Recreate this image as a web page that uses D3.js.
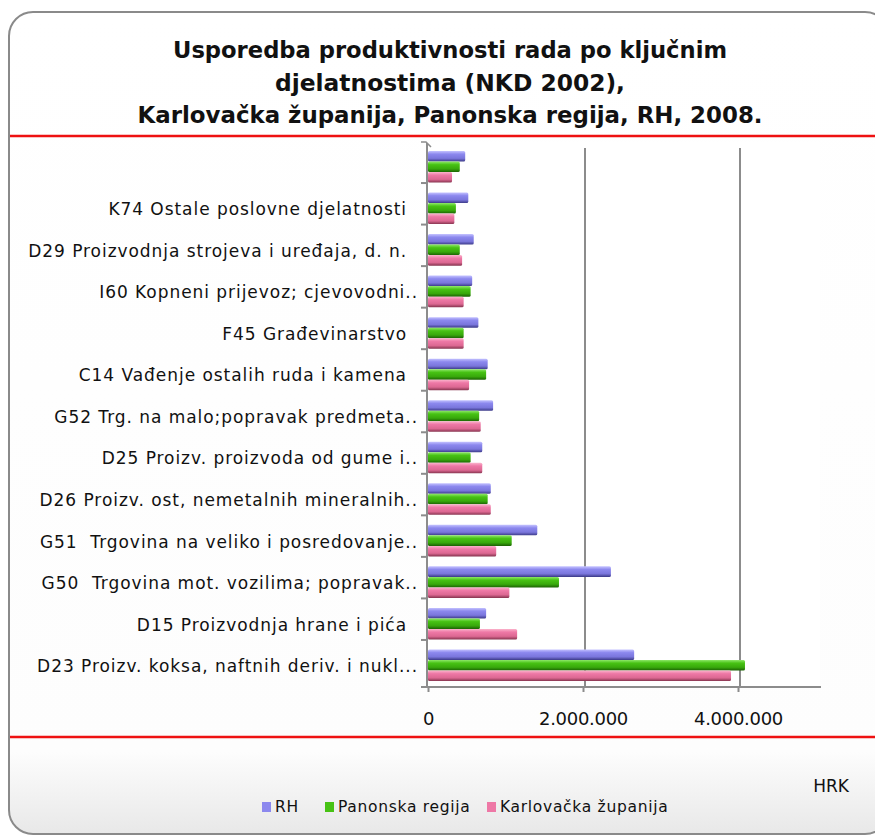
<!DOCTYPE html>
<html><head><meta charset="utf-8">
<script src="https://cdn.jsdelivr.net/npm/d3@7"></script>
<style>
html,body{margin:0;padding:0;background:#fff;}
svg{display:block;}
text{font-family:"DejaVu Sans",Verdana,sans-serif;}
</style></head>
<body><svg id="c" width="875" height="838"></svg>
<script>
const categories = ["",
 "K74 Ostale poslovne djelatnosti",
 "D29 Proizvodnja strojeva i uređaja, d. n.",
 "I60 Kopneni prijevoz; cjevovodni..",
 "F45 Građevinarstvo",
 "C14 Vađenje ostalih ruda i kamena",
 "G52 Trg. na malo;popravak predmeta..",
 "D25 Proizv. proizvoda od gume i..",
 "D26 Proizv. ost, nemetalnih mineralnih..",
 "G51  Trgovina na veliko i posredovanje..",
 "G50  Trgovina mot. vozilima; popravak..",
 "D15 Proizvodnja hrane i pića",
 "D23 Proizv. koksa, naftnih deriv. i nukl..."];
const seriesNames = ["RH", "Panonska regija", "Karlovačka županija"];
const valuesRH = [480000, 520000, 590000, 570000, 650000, 770000, 840000, 700000, 810000, 1410000, 2360000, 750000, 2660000];
const valuesPanonska = [410000, 360000, 410000, 550000, 460000, 750000, 660000, 550000, 770000, 1080000, 1690000, 670000, 4090000];
const valuesKarlovacka = [310000, 340000, 440000, 460000, 460000, 530000, 680000, 700000, 810000, 880000, 1050000, 1150000, 3910000];
const xTicks = [0, 2000000, 4000000];
const titleLines = ["Usporedba produktivnosti rada po ključnim", "djelatnostima (NKD 2002),", "Karlovačka županija, Panonska regija, RH, 2008."];
const unitLabel = "HRK";

const series = [valuesRH, valuesPanonska, valuesKarlovacka];
const svg = d3.select("#c");
const defs = svg.append("defs");

const bg = defs.append("linearGradient").attr("id","bg").attr("x1",0).attr("y1",0).attr("x2",0).attr("y2",1);
bg.append("stop").attr("offset","0").attr("stop-color","#ffffff");
bg.append("stop").attr("offset","0.9").attr("stop-color","#fdfdfd");
bg.append("stop").attr("offset","1").attr("stop-color","#e8e8e8");

const grads = [
  ["#c4c2ff","#8c88ee","#7a76dc","#3c3a88"],
  ["#8fe86a","#47c214","#38a80c","#1c6204"],
  ["#fbb4cc","#ee78a6","#dc6892","#86344f"]
];
grads.forEach((g,i)=>{
  const lg = defs.append("linearGradient").attr("id","g"+i).attr("x1",0).attr("y1",0).attr("x2",0).attr("y2",1);
  lg.append("stop").attr("offset","0").attr("stop-color",g[0]);
  lg.append("stop").attr("offset","0.3").attr("stop-color",g[1]);
  lg.append("stop").attr("offset","0.7").attr("stop-color",g[2]);
  lg.append("stop").attr("offset","1").attr("stop-color",g[3]);
});
const legendColors = ["#8c88ee","#47c214","#ee78a6"];

svg.append("rect").attr("x",9).attr("y",12).attr("width",880).attr("height",822)
  .attr("rx",24).attr("fill","url(#bg)").attr("stroke","#8a8a8a").attr("stroke-width",2);

const title = svg.append("g");
const titleY = [58, 91, 123];
const titleW = [554, 350, 625];
titleLines.forEach((t,i)=>{
  title.append("text").attr("x",450).attr("y",titleY[i]).attr("text-anchor","middle")
    .attr("font-size",23).attr("font-weight","bold").attr("fill","#111")
    .attr("textLength",titleW[i]).attr("lengthAdjust","spacingAndGlyphs").text(t);
});

[136, 737].forEach(y=>{
  svg.append("line").attr("x1",10).attr("x2",875).attr("y1",y).attr("y2",y)
    .attr("stroke","#ee1111").attr("stroke-width",2.5);
});

const x = d3.scaleLinear().domain([0,5000000]).range([428, 815.5]);
const y = d3.scaleBand().domain(d3.range(categories.length)).range([146, 686]).paddingInner(0.24).paddingOuter(0.12);
const y1 = d3.scaleBand().domain(d3.range(series.length)).range([0, y.bandwidth()]);

svg.append("rect").attr("x",428).attr("y",142).attr("width",392).attr("height",544).attr("fill","#fff");

svg.append("g").selectAll("line").data(xTicks.filter(d=>d>0)).join("line")
  .attr("x1",d=>x(d)+2).attr("x2",d=>x(d)+2).attr("y1",148).attr("y2",686)
  .attr("stroke","#8c8c8c").attr("stroke-width",2);

const groups = svg.append("g").selectAll("g").data(categories).join("g")
  .attr("transform",(d,i)=>`translate(0,${y(i)})`);
groups.selectAll("rect").data((d,i)=>series.map((s,k)=>({k, v:s[i]}))).join("rect")
  .attr("x", x(0)).attr("y", d=>y1(d.k)).attr("height", y1.bandwidth())
  .attr("width", d=>x(d.v)-x(0)).attr("rx",1.5)
  .attr("fill", d=>`url(#g${d.k})`);

const axisColor = "#8c8c8c";
svg.append("line").attr("x1",427).attr("x2",427).attr("y1",143).attr("y2",688)
  .attr("stroke",axisColor).attr("stroke-width",2);
svg.append("path").attr("d","M421,142 L426,142 L431,147").attr("fill","none").attr("stroke",axisColor).attr("stroke-width",1.5);
const boundaries = d3.range(1, categories.length).map(i=>y.step()*i + 141.5);
svg.append("g").selectAll("line").data(boundaries).join("line")
  .attr("x1",421).attr("x2",427).attr("y1",d=>d).attr("y2",d=>d)
  .attr("stroke",axisColor).attr("stroke-width",2);

svg.append("g").selectAll("text").data(categories).join("text")
  .attr("x", d=> d.endsWith("..") ? 418 : 407)
  .attr("y",(d,i)=>y(i)+y.bandwidth()/2+1)
  .attr("dy","0.35em").attr("text-anchor","end")
  .attr("font-size",17).attr("letter-spacing","0.95").attr("fill","#111")
  .style("white-space","pre").text(d=>d);

svg.append("line").attr("x1",421).attr("x2",821).attr("y1",687).attr("y2",687)
  .attr("stroke",axisColor).attr("stroke-width",2);
const xAxis = d3.axisBottom(x).tickValues(xTicks).tickSize(5)
  .tickFormat(d=>d3.format(",")(d).replace(/,/g,"."));
const xg = svg.append("g").attr("transform","translate(0,687)").call(xAxis);
xg.select(".domain").remove();
xg.selectAll(".tick line").attr("stroke",axisColor).attr("stroke-width",2);
xg.selectAll(".tick text").attr("font-size",18).attr("letter-spacing","-0.3").attr("fill","#111").attr("y",25)
  .attr("font-family","DejaVu Sans, sans-serif");

svg.append("text").attr("x",831).attr("y",792).attr("text-anchor","middle")
  .attr("font-size",17).attr("fill","#111").text(unitLabel);

const legX = [262, 325, 487];
const leg = svg.append("g").selectAll("g").data(seriesNames).join("g")
  .attr("transform",(d,i)=>`translate(${legX[i]},807)`);
leg.append("rect").attr("x",0).attr("y",-5).attr("width",9).attr("height",10)
  .attr("fill",(d,i)=>legendColors[i]);
leg.append("text").attr("x",13).attr("y",0).attr("dy","0.35em")
  .attr("font-size",15.5).attr("fill","#111").attr("letter-spacing","0.7")
  .text(d=>d);
</script></body></html>
